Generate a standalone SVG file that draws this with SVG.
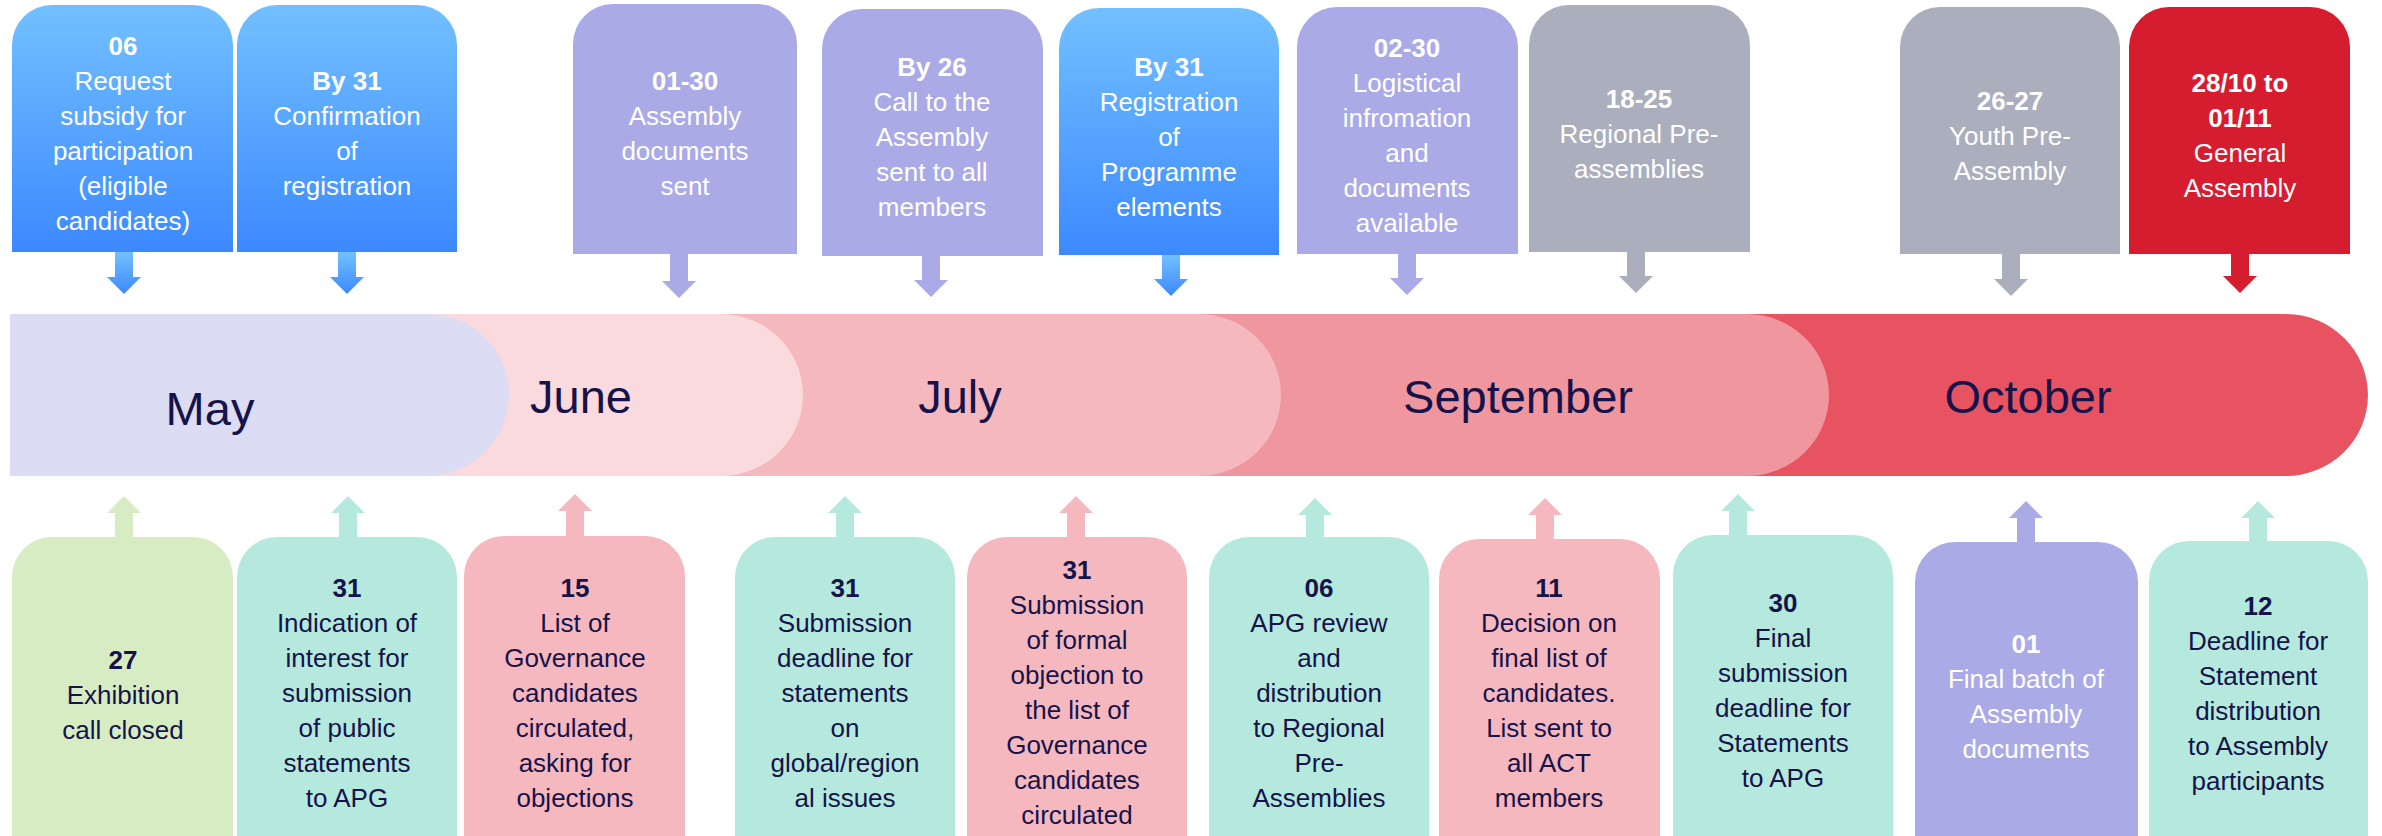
<svg xmlns="http://www.w3.org/2000/svg" width="2382" height="836" viewBox="0 0 2382 836">
<defs>
<linearGradient id="blue" x1="0" y1="0" x2="0" y2="1">
<stop offset="0" stop-color="#72C0FF"/>
<stop offset="1" stop-color="#3C89FF"/>
</linearGradient>
<style>
text{font-family:"Liberation Sans",Arial,sans-serif;font-size:26px;text-anchor:middle}
.b{font-weight:bold}
.w{fill:#FFFFFF}
.d{fill:#15134A}
.m{font-size:47px;fill:#15134A}
.blue{fill:url(#blue)}
.lav{fill:#AAAAE6}
.gray{fill:#ABAEBC}
.red{fill:#D61C2F}
.mint{fill:#B5E9DD}
.pink{fill:#F5B8BF}
.green{fill:#D8ECC4}
</style>
</defs>
<rect width="2382" height="836" fill="#FFFFFF"/>

<g id="timeline">
<path d="M10 314 H2286 A82 81 0 0 1 2286 476 H10 Z" fill="#E85362"/>
<path d="M10 314 H1747 A82 81 0 0 1 1747 476 H10 Z" fill="#F0969E"/>
<path d="M10 314 H1199 A82 81 0 0 1 1199 476 H10 Z" fill="#F5B8BF"/>
<path d="M10 314 H721 A82 81 0 0 1 721 476 H10 Z" fill="#FADADD"/>
<path d="M10 314 H427 A82 81 0 0 1 427 476 H10 Z" fill="#DCDCF4"/>
<text class="m" x="210" y="425">May</text>
<text class="m" x="581" y="413">June</text>
<text class="m" x="960" y="413">July</text>
<text class="m" x="1518" y="413">September</text>
<text class="m" x="2028" y="413">October</text>
</g>

<g id="connectors">
<path class="blue" d="M115 252 H133 V277 H141 L124 294 L107 277 H115 Z"/>
<path class="blue" d="M338 252 H356 V277 H364 L347 294 L330 277 H338 Z"/>
<path class="lav" d="M670 254 H688 V281 H696 L679 298 L662 281 H670 Z"/>
<path class="lav" d="M922 256 H940 V280 H948 L931 297 L914 280 H922 Z"/>
<path class="blue" d="M1162 255 H1180 V279 H1188 L1171 296 L1154 279 H1162 Z"/>
<path class="lav" d="M1398 254 H1416 V278 H1424 L1407 295 L1390 278 H1398 Z"/>
<path class="gray" d="M1627 252 H1645 V276 H1653 L1636 293 L1619 276 H1627 Z"/>
<path class="gray" d="M2002 254 H2020 V279 H2028 L2011 296 L1994 279 H2002 Z"/>
<path class="red" d="M2231 254 H2249 V276 H2257 L2240 293 L2223 276 H2231 Z"/>

<path class="green" d="M115 537 V513 H107 L124 496 L141 513 H133 V537 Z"/>
<path class="mint" d="M339 537 V513 H331 L348 496 L365 513 H357 V537 Z"/>
<path class="pink" d="M566 536 V511 H558 L575 494 L592 511 H584 V536 Z"/>
<path class="mint" d="M836 537 V513 H828 L845 496 L862 513 H854 V537 Z"/>
<path class="pink" d="M1067 537 V513 H1059 L1076 496 L1093 513 H1085 V537 Z"/>
<path class="mint" d="M1306 537 V515 H1298 L1315 498 L1332 515 H1324 V537 Z"/>
<path class="pink" d="M1536 539 V515 H1528 L1545 498 L1562 515 H1554 V539 Z"/>
<path class="mint" d="M1729 535 V511 H1721 L1738 494 L1755 511 H1747 V535 Z"/>
<path class="lav" d="M2017 542 V518 H2009 L2026 501 L2043 518 H2035 V542 Z"/>
<path class="mint" d="M2249 541 V518 H2241 L2258 501 L2275 518 H2267 V541 Z"/>
</g>

<g id="top-06">
<path class="blue" d="M12 252 V45 A40 40 0 0 1 52 5 H193 A40 40 0 0 1 233 45 V252 Z"/>
<text class="w" x="123"><tspan class="b" x="123" y="55">06</tspan><tspan x="123" y="90">Request</tspan><tspan x="123" y="125">subsidy for</tspan><tspan x="123" y="160">participation</tspan><tspan x="123" y="195">(eligible</tspan><tspan x="123" y="230">candidates)</tspan></text>
</g>
<g id="top-by31-confirmation">
<path class="blue" d="M237 252 V45 A40 40 0 0 1 277 5 H417 A40 40 0 0 1 457 45 V252 Z"/>
<text class="w" x="347"><tspan class="b" x="347" y="90">By 31</tspan><tspan x="347" y="125">Confirmation</tspan><tspan x="347" y="160">of</tspan><tspan x="347" y="195">registration</tspan></text>
</g>
<g id="top-0130">
<path class="lav" d="M573 254 V44 A40 40 0 0 1 613 4 H757 A40 40 0 0 1 797 44 V254 Z"/>
<text class="w" x="685"><tspan class="b" x="685" y="90">01-30</tspan><tspan x="685" y="125">Assembly</tspan><tspan x="685" y="160">documents</tspan><tspan x="685" y="195">sent</tspan></text>
</g>
<g id="top-by26">
<path class="lav" d="M822 256 V49 A40 40 0 0 1 862 9 H1003 A40 40 0 0 1 1043 49 V256 Z"/>
<text class="w" x="932"><tspan class="b" x="932" y="76">By 26</tspan><tspan x="932" y="111">Call to the</tspan><tspan x="932" y="146">Assembly</tspan><tspan x="932" y="181">sent to all</tspan><tspan x="932" y="216">members</tspan></text>
</g>
<g id="top-by31-registration">
<path class="blue" d="M1059 255 V48 A40 40 0 0 1 1099 8 H1239 A40 40 0 0 1 1279 48 V255 Z"/>
<text class="w" x="1169"><tspan class="b" x="1169" y="76">By 31</tspan><tspan x="1169" y="111">Registration</tspan><tspan x="1169" y="146">of</tspan><tspan x="1169" y="181">Programme</tspan><tspan x="1169" y="216">elements</tspan></text>
</g>
<g id="top-0230">
<path class="lav" d="M1297 254 V47 A40 40 0 0 1 1337 7 H1478 A40 40 0 0 1 1518 47 V254 Z"/>
<text class="w" x="1407"><tspan class="b" x="1407" y="57">02-30</tspan><tspan x="1407" y="92">Logistical</tspan><tspan x="1407" y="127">infromation</tspan><tspan x="1407" y="162">and</tspan><tspan x="1407" y="197">documents</tspan><tspan x="1407" y="232">available</tspan></text>
</g>
<g id="top-1825">
<path class="gray" d="M1529 252 V45 A40 40 0 0 1 1569 5 H1710 A40 40 0 0 1 1750 45 V252 Z"/>
<text class="w" x="1639"><tspan class="b" x="1639" y="108">18-25</tspan><tspan x="1639" y="143">Regional Pre-</tspan><tspan x="1639" y="178">assemblies</tspan></text>
</g>
<g id="top-2627">
<path class="gray" d="M1900 254 V47 A40 40 0 0 1 1940 7 H2080 A40 40 0 0 1 2120 47 V254 Z"/>
<text class="w" x="2010"><tspan class="b" x="2010" y="110">26-27</tspan><tspan x="2010" y="145">Youth Pre-</tspan><tspan x="2010" y="180">Assembly</tspan></text>
</g>
<g id="top-general-assembly">
<path class="red" d="M2129 254 V47 A40 40 0 0 1 2169 7 H2310 A40 40 0 0 1 2350 47 V254 Z"/>
<text class="w" x="2240"><tspan class="b" x="2240" y="92">28/10 to</tspan><tspan class="b" x="2240" y="127">01/11</tspan><tspan x="2240" y="162">General</tspan><tspan x="2240" y="197">Assembly</tspan></text>
</g>

<g id="bottom-27">
<path class="green" d="M12 840 V577 A40 40 0 0 1 52 537 H193 A40 40 0 0 1 233 577 V840 Z"/>
<text class="d" x="123"><tspan class="b" x="123" y="669">27</tspan><tspan x="123" y="704">Exhibition</tspan><tspan x="123" y="739">call closed</tspan></text>
</g>
<g id="bottom-31-indication">
<path class="mint" d="M237 840 V577 A40 40 0 0 1 277 537 H417 A40 40 0 0 1 457 577 V840 Z"/>
<text class="d" x="347"><tspan class="b" x="347" y="597">31</tspan><tspan x="347" y="632">Indication of</tspan><tspan x="347" y="667">interest for</tspan><tspan x="347" y="702">submission</tspan><tspan x="347" y="737">of public</tspan><tspan x="347" y="772">statements</tspan><tspan x="347" y="807">to APG</tspan></text>
</g>
<g id="bottom-15">
<path class="pink" d="M464 840 V576 A40 40 0 0 1 504 536 H645 A40 40 0 0 1 685 576 V840 Z"/>
<text class="d" x="575"><tspan class="b" x="575" y="597">15</tspan><tspan x="575" y="632">List of</tspan><tspan x="575" y="667">Governance</tspan><tspan x="575" y="702">candidates</tspan><tspan x="575" y="737">circulated,</tspan><tspan x="575" y="772">asking for</tspan><tspan x="575" y="807">objections</tspan></text>
</g>
<g id="bottom-31-submission-deadline">
<path class="mint" d="M735 840 V577 A40 40 0 0 1 775 537 H915 A40 40 0 0 1 955 577 V840 Z"/>
<text class="d" x="845"><tspan class="b" x="845" y="597">31</tspan><tspan x="845" y="632">Submission</tspan><tspan x="845" y="667">deadline for</tspan><tspan x="845" y="702">statements</tspan><tspan x="845" y="737">on</tspan><tspan x="845" y="772">global/region</tspan><tspan x="845" y="807">al issues</tspan></text>
</g>
<g id="bottom-31-formal-objection">
<path class="pink" d="M967 840 V577 A40 40 0 0 1 1007 537 H1147 A40 40 0 0 1 1187 577 V840 Z"/>
<text class="d" x="1077"><tspan class="b" x="1077" y="579">31</tspan><tspan x="1077" y="614">Submission</tspan><tspan x="1077" y="649">of formal</tspan><tspan x="1077" y="684">objection to</tspan><tspan x="1077" y="719">the list of</tspan><tspan x="1077" y="754">Governance</tspan><tspan x="1077" y="789">candidates</tspan><tspan x="1077" y="824">circulated</tspan></text>
</g>
<g id="bottom-06">
<path class="mint" d="M1209 840 V577 A40 40 0 0 1 1249 537 H1389 A40 40 0 0 1 1429 577 V840 Z"/>
<text class="d" x="1319"><tspan class="b" x="1319" y="597">06</tspan><tspan x="1319" y="632">APG review</tspan><tspan x="1319" y="667">and</tspan><tspan x="1319" y="702">distribution</tspan><tspan x="1319" y="737">to Regional</tspan><tspan x="1319" y="772">Pre-</tspan><tspan x="1319" y="807">Assemblies</tspan></text>
</g>
<g id="bottom-11">
<path class="pink" d="M1439 840 V579 A40 40 0 0 1 1479 539 H1620 A40 40 0 0 1 1660 579 V840 Z"/>
<text class="d" x="1549"><tspan class="b" x="1549" y="597">11</tspan><tspan x="1549" y="632">Decision on</tspan><tspan x="1549" y="667">final list of</tspan><tspan x="1549" y="702">candidates.</tspan><tspan x="1549" y="737">List sent to</tspan><tspan x="1549" y="772">all ACT</tspan><tspan x="1549" y="807">members</tspan></text>
</g>
<g id="bottom-30">
<path class="mint" d="M1673 840 V575 A40 40 0 0 1 1713 535 H1853 A40 40 0 0 1 1893 575 V840 Z"/>
<text class="d" x="1783"><tspan class="b" x="1783" y="612">30</tspan><tspan x="1783" y="647">Final</tspan><tspan x="1783" y="682">submission</tspan><tspan x="1783" y="717">deadline for</tspan><tspan x="1783" y="752">Statements</tspan><tspan x="1783" y="787">to APG</tspan></text>
</g>
<g id="bottom-01">
<path class="lav" d="M1915 840 V582 A40 40 0 0 1 1955 542 H2098 A40 40 0 0 1 2138 582 V840 Z"/>
<text class="w" x="2026"><tspan class="b" x="2026" y="653">01</tspan><tspan x="2026" y="688">Final batch of</tspan><tspan x="2026" y="723">Assembly</tspan><tspan x="2026" y="758">documents</tspan></text>
</g>
<g id="bottom-12">
<path class="mint" d="M2149 840 V581 A40 40 0 0 1 2189 541 H2328 A40 40 0 0 1 2368 581 V840 Z"/>
<text class="d" x="2258"><tspan class="b" x="2258" y="615">12</tspan><tspan x="2258" y="650">Deadline for</tspan><tspan x="2258" y="685">Statement</tspan><tspan x="2258" y="720">distribution</tspan><tspan x="2258" y="755">to Assembly</tspan><tspan x="2258" y="790">participants</tspan></text>
</g>
</svg>
